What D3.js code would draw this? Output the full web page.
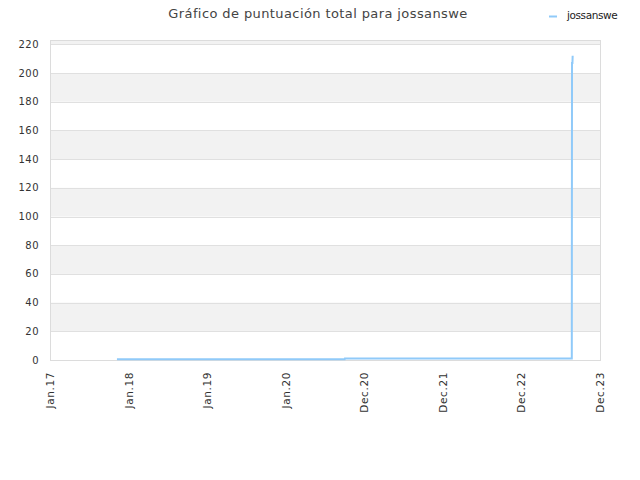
<!DOCTYPE html>
<html><head><meta charset="utf-8">
<script src="https://cdn.jsdelivr.net/npm/d3@7"></script>
<style>body{margin:0;background:#fff}svg{display:block}text{font-family:"DejaVu Sans",sans-serif}</style>
</head><body>
<svg id="c" width="640" height="480"></svg>
<script>
const title = "Gráfico de puntuación total para jossanswe";
const seriesName = "jossanswe";
const dates = ["2017-11-08","2020-10-01","2020-10-02","2023-08-22","2023-08-23","2023-08-25","2023-08-26"];
const values = [0.5, 0.5, 1, 1, 207, 207, 212];
const yTicks = [0,20,40,60,80,100,120,140,160,180,200,220];
const xTickLabels = ["Jan.17","Jan.18","Jan.19","Jan.20","Dec.20","Dec.21","Dec.22","Dec.23"];

const svg = d3.select("#c");
const L=50, R=600, T=40, B=360;
const start = new Date(2017,0,1);
const day = 864e5;
const xTicks = xTickLabels.map((d,i)=>new Date(start.getTime()+i*365*day));
const x = d3.scaleTime().domain([xTicks[0], xTicks[xTicks.length-1]]).range([L,R]);
const y = d3.scaleLinear().domain([0,223]).range([B,T]);

// bands
for(let i=0;i<yTicks.length;i++){
  const v0=yTicks[i], v1=Math.min(yTicks[i]+20, 223);
  if((v0/20)%2===1){
    svg.append("rect").attr("x",L).attr("width",R-L).attr("y",y(v1)).attr("height",y(v0)-y(v1)).attr("fill","#f2f2f2");
  }
}
// grid
svg.append("g").selectAll("line").data(yTicks).join("line")
  .attr("x1",L).attr("x2",R).attr("y1",d=>Math.round(y(d))+0.5).attr("y2",d=>Math.round(y(d))+0.5)
  .attr("stroke","#e0e0e0").attr("stroke-width",1);
svg.append("rect").attr("x",L+0.5).attr("y",T+0.5).attr("width",R-L).attr("height",B-T)
  .attr("fill","none").attr("stroke","#dcdcdc");

// y labels
svg.append("g").selectAll("text").data(yTicks).join("text")
  .attr("x",39).attr("y",d=>y(d)+3.5).attr("text-anchor","end")
  .attr("font-size",10).attr("letter-spacing","0.5").attr("fill","#333").text(d=>d);

// x labels
svg.append("g").selectAll("text").data(xTicks).join("text")
  .attr("transform",d=>`translate(${x(d)+4},372) rotate(-90)`)
  .attr("text-anchor","end").attr("font-size",10.5).attr("fill","#333")
  .attr("letter-spacing","0.6").text((d,i)=>xTickLabels[i]);

// line
const pts = dates.map((d,i)=>[new Date(d+"T00:00:00"), values[i]]);
svg.append("path").datum(pts)
  .attr("d", d3.line().x(d=>x(d[0])).y(d=>y(d[1])))
  .attr("fill","none").attr("stroke","#90caf9").attr("stroke-width",2);

// title
svg.append("text").attr("x",318).attr("y",18).attr("text-anchor","middle")
  .attr("font-size",13).attr("fill","#444").attr("letter-spacing","0.4").text(title);

// legend
svg.append("line").attr("x1",549).attr("x2",557).attr("y1",16.5).attr("y2",16.5)
  .attr("stroke","#90caf9").attr("stroke-width",2);
svg.append("text").attr("x",567).attr("y",19).attr("font-size",10.5).attr("fill","#222")
  .attr("letter-spacing","-0.4").text(seriesName);
</script>
</body></html>
